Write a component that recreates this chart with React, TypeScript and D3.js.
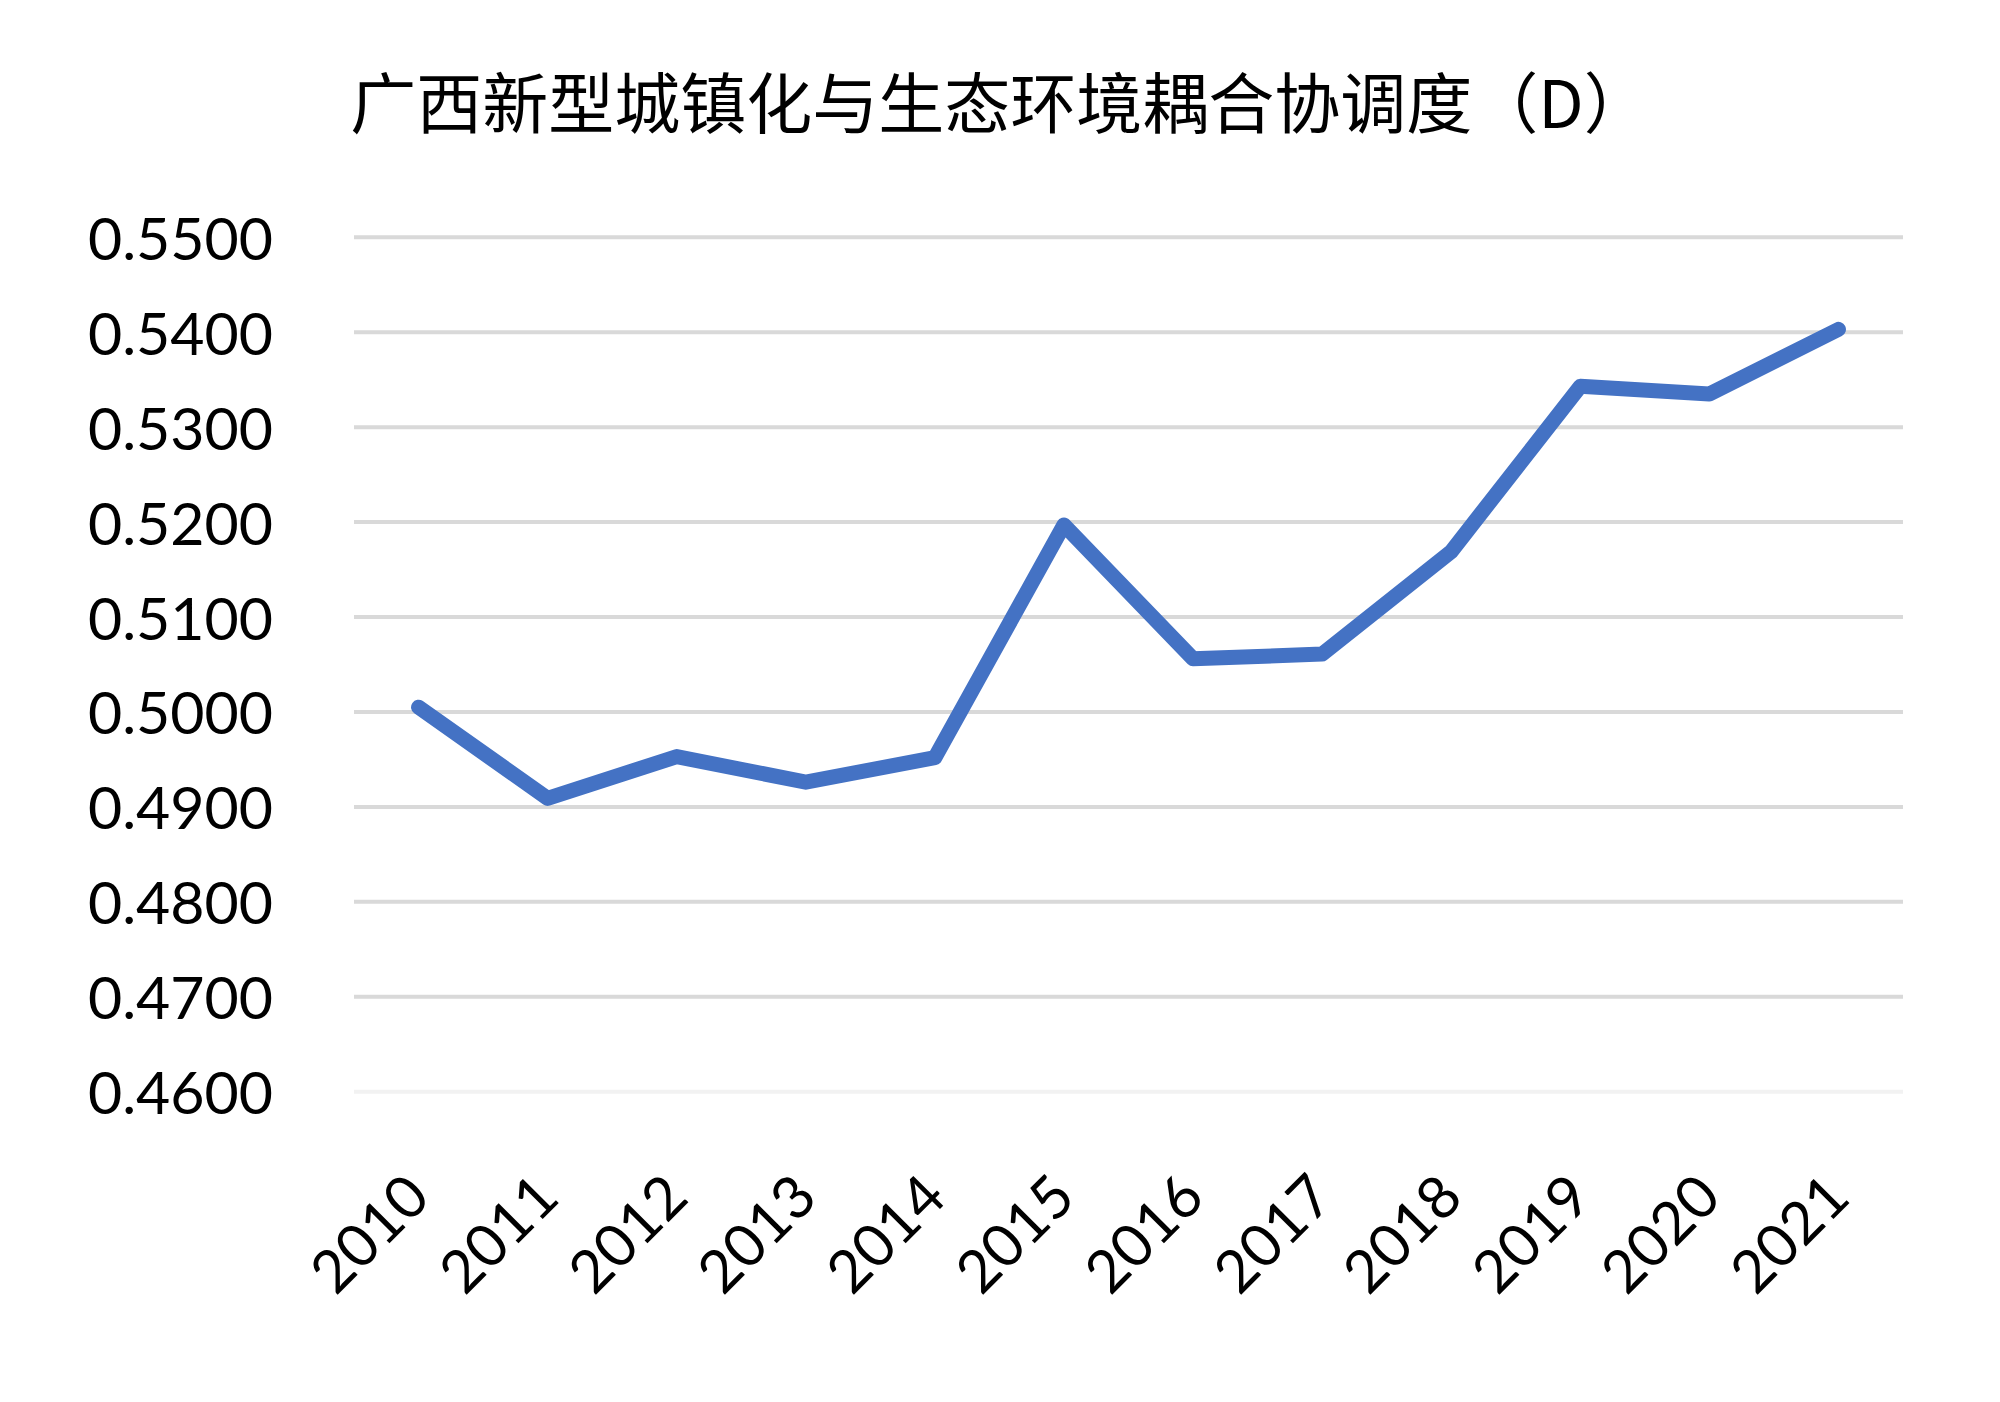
import React from "react";
import * as d3 from "d3";

const years = ["2010","2011","2012","2013","2014","2015","2016","2017","2018","2019","2020","2021"];
const values = [0.5005, 0.4909, 0.4953, 0.4926, 0.4952, 0.5197, 0.5056, 0.5061, 0.5169, 0.5343, 0.5335, 0.5403];
const yTicks = [0.46, 0.47, 0.48, 0.49, 0.5, 0.51, 0.52, 0.53, 0.54, 0.55];
const title = "广西新型城镇化与生态环境耦合协调度（D）";

export default function App() {
  const W = 2000, H = 1402;
  const left = 354, right = 1903, top = 237.3, bottom = 1091.7;
  const x = d3.scaleBand<string>().domain(years).range([left, right]);
  const y = d3.scaleLinear().domain([0.46, 0.55]).range([bottom, top]);
  const line = d3.line<number>()
    .x((_, i) => (x(years[i]) as number) + x.bandwidth() / 2)
    .y((d) => y(d));
  const fmt = d3.format(".4f");
  const font = "Lato, 'Open Sans', sans-serif";
  return (
    <svg width={W} height={H} style={{ position: "absolute", left: 0, top: 0, background: "#fff" }}>
      <rect width={W} height={H} fill="#fff" />
      <text x={1000} y={128} textAnchor="middle" fontSize={66}
        fontFamily="'Noto Sans CJK SC', sans-serif" fill="#000">{title}</text>
      {yTicks.map((t) => (
        <g key={t}>
          <line x1={left} x2={right} y1={y(t)} y2={y(t)}
            stroke={t === 0.46 ? "#F2F2F2" : "#D9D9D9"} strokeWidth={4} />
          <text x={273} y={y(t)} textAnchor="end" dominantBaseline="central"
            fontSize={59} fontFamily={font} fill="#000">{fmt(t)}</text>
        </g>
      ))}
      <path d={line(values) || ""} fill="none" stroke="#4472C4" strokeWidth={15}
        strokeLinecap="round" strokeLinejoin="round" />
      {years.map((yr) => {
        const cx = (x(yr) as number) + x.bandwidth() / 2;
        return (
          <text key={yr} transform={`translate(${cx + 14},${1200}) rotate(-45)`}
            textAnchor="end" fontSize={59} fontFamily={font} fill="#000">{yr}</text>
        );
      })}
    </svg>
  );
}
